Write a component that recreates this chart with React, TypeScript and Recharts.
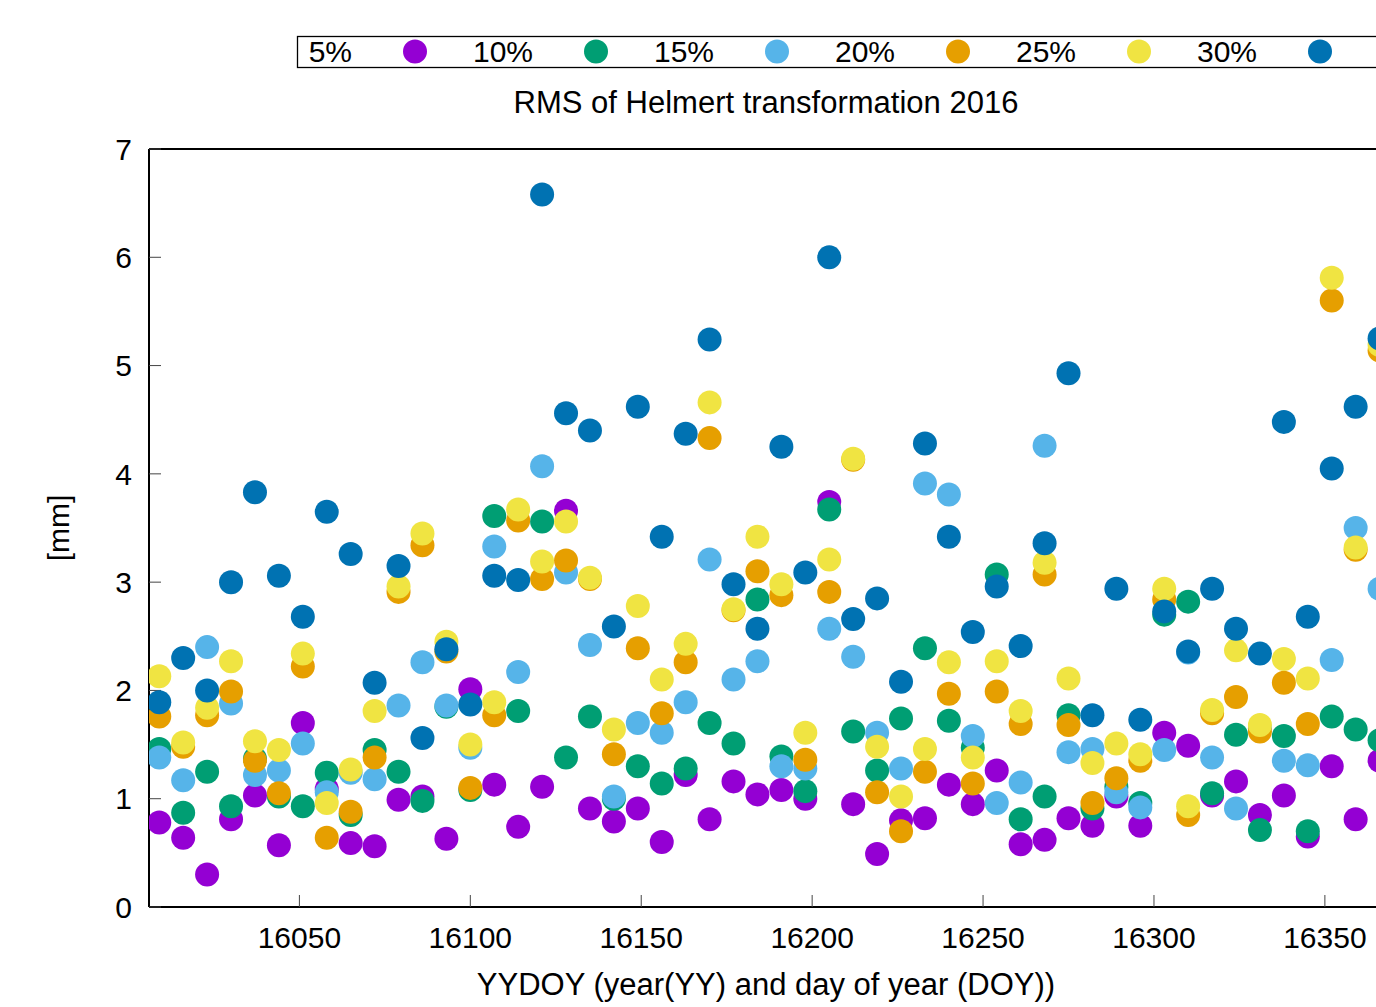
import React from 'react';
import { ScatterChart, Scatter, XAxis, YAxis, Legend, Label } from 'recharts';

const days = [
  16009, 16016, 16023, 16030, 16037, 16044, 16051, 16058, 16065, 16072, 16079, 16086, 16093,
  16100, 16107, 16114, 16121, 16128, 16135, 16142, 16149, 16156, 16163, 16170, 16177, 16184,
  16191, 16198, 16205, 16212, 16219, 16226, 16233, 16240, 16247, 16254, 16261, 16268, 16275,
  16282, 16289, 16296, 16303, 16310, 16317, 16324, 16331, 16338, 16345, 16352, 16359, 16366,
];

const p5 = [
  0.78, 0.64, 0.30, 0.81, 1.03, 0.57, 1.70, 1.09, 0.59, 0.56, 0.99, 1.02, 0.63,
  2.01, 1.13, 0.74, 1.11, 3.66, 0.91, 0.79, 0.91, 0.60, 1.22, 0.81, 1.16, 1.04,
  1.08, 1.00, 3.74, 0.95, 0.49, 0.80, 0.82, 1.13, 0.95, 1.26, 0.58, 0.62, 0.82,
  0.75, 1.02, 0.75, 1.61, 1.49, 1.03, 1.16, 0.85, 1.03, 0.65, 1.30, 0.81, 1.35,
];
const p10 = [
  1.46, 0.87, 1.25, 0.93, 1.37, 1.02, 0.93, 1.24, 0.85, 1.45, 1.25, 0.98, 1.85,
  1.08, 3.61, 1.81, 3.56, 1.38, 1.76, 1.00, 1.30, 1.14, 1.28, 1.70, 1.51, 2.84,
  1.39, 1.07, 3.67, 1.62, 1.26, 1.74, 2.39, 1.72, 1.47, 3.07, 0.81, 1.02, 1.77,
  0.91, 1.11, 0.96, 2.70, 2.82, 1.05, 1.59, 0.71, 1.58, 0.70, 1.76, 1.64, 1.54,
];
const p15 = [
  1.38, 1.17, 2.40, 1.88, 1.22, 1.26, 1.51, 1.06, 1.24, 1.18, 1.86, 2.26, 1.86,
  1.47, 3.33, 2.17, 4.07, 3.09, 2.42, 1.02, 1.70, 1.61, 1.89, 3.21, 2.10, 2.27,
  1.30, 1.28, 2.57, 2.31, 1.61, 1.28, 3.91, 3.81, 1.58, 0.96, 1.15, 4.26, 1.43,
  1.46, 1.06, 0.92, 1.45, 2.35, 1.38, 0.91, 1.65, 1.35, 1.31, 2.28, 3.50, 2.94,
];
const p20 = [
  1.76, 1.48, 1.77, 1.99, 1.35, 1.05, 2.22, 0.64, 0.88, 1.38, 2.91, 3.34, 2.36,
  1.10, 1.77, 3.57, 3.03, 3.20, 3.03, 1.41, 2.39, 1.79, 2.26, 4.33, 2.74, 3.10,
  2.88, 1.36, 2.91, 4.13, 1.06, 0.70, 1.25, 1.97, 1.14, 1.99, 1.69, 3.07, 1.68,
  0.96, 1.19, 1.35, 2.84, 0.85, 1.79, 1.94, 1.62, 2.07, 1.69, 5.60, 3.30, 5.14,
];
const p25 = [
  2.13, 1.52, 1.84, 2.27, 1.53, 1.45, 2.34, 0.96, 1.27, 1.81, 2.96, 3.45, 2.45,
  1.50, 1.89, 3.67, 3.19, 3.56, 3.04, 1.64, 2.78, 2.10, 2.43, 4.66, 2.75, 3.42,
  2.98, 1.61, 3.21, 4.14, 1.48, 1.02, 1.46, 2.26, 1.38, 2.27, 1.81, 3.18, 2.11,
  1.33, 1.51, 1.41, 2.94, 0.93, 1.82, 2.37, 1.68, 2.29, 2.11, 5.81, 3.32, 5.19,
];
const p30 = [
  1.89, 2.30, 2.00, 3.00, 3.83, 3.06, 2.68, 3.65, 3.26, 2.07, 3.15, 1.56, 2.38,
  1.87, 3.06, 3.02, 6.58, 4.56, 4.40, 2.59, 4.62, 3.42, 4.37, 5.24, 2.98, 2.57,
  4.25, 3.09, 6.00, 2.66, 2.85, 2.08, 4.28, 3.42, 2.54, 2.96, 2.41, 3.36, 4.93,
  1.77, 2.94, 1.73, 2.73, 2.36, 2.94, 2.57, 2.34, 4.48, 2.68, 4.05, 4.62, 5.25,
];

const seriesNames = ['5%', '10%', '15%', '20%', '25%', '30%'];
const seriesColors = ['#9400D3', '#009E73', '#56B4E9', '#E69F00', '#F0E442', '#0072B2'];
const seriesValues = [p5, p10, p15, p20, p25, p30];

const xTicks = [16050, 16100, 16150, 16200, 16250, 16300, 16350];
const yTicks = [0, 1, 2, 3, 4, 5, 6, 7];
const xDomain = [16006, 16367];
const yDomain = [0, 7];

const titleText = 'RMS of Helmert transformation 2016';
const xLabelText = 'YYDOY (year(YY) and day of year (DOY))';
const yLabelText = '[mm]';

const FONT = '"Liberation Sans", Arial, Helvetica, sans-serif';

const series = seriesNames.map((name, i) => ({
  name,
  color: seriesColors[i],
  data: days.map((d, j) => ({ x: d, y: seriesValues[i][j] })),
}));

const LEGEND_W = 1100;
const LEGEND_H = 32;

const renderLegend = () => (
  <svg width={LEGEND_W} height={LEGEND_H} style={{ display: 'block', overflow: 'visible' }}>
    <rect x={0.5} y={0.5} width={LEGEND_W - 1} height={LEGEND_H - 1} fill="#fff" stroke="#000" strokeWidth={1.3} />
    {series.map((s, i) => (
      <g key={s.name}>
        <text x={55 + 181 * i} y={25.5} textAnchor="end" fontSize={30} fontFamily={FONT} fill="#000">
          {s.name}
        </text>
        <circle cx={118 + 181 * i} cy={15.5} r={12} fill={s.color} />
      </g>
    ))}
  </svg>
);

const makeShape = (color: string) => (props: any) => {
  if (props.cx == null || props.cy == null) return <g />;
  return <circle cx={props.cx} cy={props.cy} r={12} fill={color} />;
};

const YLabel = (props: any) => {
  const vb = props.viewBox || { x: 0, y: 149, width: 149, height: 758 };
  const cx = vb.x + 58;
  const cy = vb.y + vb.height / 2;
  return (
    <text
      x={cx}
      y={cy}
      transform={`rotate(-90 ${cx} ${cy})`}
      textAnchor="middle"
      dy="0.35em"
      fontSize={30}
      fontFamily={FONT}
      fill="#000"
    >
      {yLabelText}
    </text>
  );
};

const TitleLabel = (props: any) => {
  const vb = props.viewBox || { x: 149, y: 907, width: 1234, height: 100 };
  const cx = vb.x + vb.width / 2;
  // title sits 794px above the bottom axis line
  const y = vb.y - 794;
  return (
    <text x={cx} y={y} textAnchor="middle" fontSize={31} fontFamily={FONT} fill="#000">
      {titleText}
    </text>
  );
};

const FrameTop = (props: any) => {
  const vb = props.viewBox || { x: 149, y: 907, width: 1234, height: 100 };
  return null;
};

export default function App() {
  const tickStyle = { fontSize: 30, fontFamily: FONT, fill: '#000' };
  const axisLineStyle = { stroke: '#000', strokeWidth: 2 };
  const tickLineStyle = { stroke: '#444', strokeWidth: 1 };
  return (
    <div
      style={{
        position: 'absolute',
        left: 0,
        top: 0,
        width: 1376,
        height: 1007,
        overflow: 'hidden',
        background: '#fff',
      }}
    >
      <ScatterChart
        width={1440}
        height={1007}
        margin={{ top: 148, right: 56, bottom: 0, left: 0 }}
        style={{ fontFamily: FONT }}
      >
        <XAxis
          xAxisId="t"
          type="number"
          dataKey="x"
          orientation="top"
          domain={xDomain}
          ticks={xTicks}
          allowDataOverflow
          interval={0}
          height={1}
          tickSize={-12}
          tick={false}
          axisLine={axisLineStyle}
          tickLine={tickLineStyle}
        />
        <XAxis
          xAxisId="b"
          type="number"
          dataKey="x"
          orientation="bottom"
          domain={xDomain}
          ticks={xTicks}
          allowDataOverflow
          interval={0}
          height={100}
          tickSize={-12}
          tickMargin={32}
          tick={tickStyle}
          axisLine={axisLineStyle}
          tickLine={tickLineStyle}
        >
          <Label
            value={xLabelText}
            position="insideBottom"
            offset={12}
            fontSize={31}
            fontFamily={FONT}
            fill="#000"
          />
          <Label content={<TitleLabel />} />
        </XAxis>
        <YAxis
          yAxisId="l"
          type="number"
          dataKey="y"
          orientation="left"
          domain={yDomain}
          ticks={yTicks}
          allowDataOverflow
          interval={0}
          width={149}
          tickSize={-12}
          tickMargin={29}
          tick={tickStyle}
          axisLine={axisLineStyle}
          tickLine={tickLineStyle}
        >
          <Label content={<YLabel />} />
        </YAxis>
        <YAxis
          yAxisId="r"
          type="number"
          dataKey="y"
          orientation="right"
          domain={yDomain}
          ticks={yTicks}
          allowDataOverflow
          interval={0}
          width={1}
          tickSize={-12}
          tick={false}
          axisLine={axisLineStyle}
          tickLine={tickLineStyle}
        />
        <Legend
          layout="horizontal"
          verticalAlign="middle"
          align="center"
          content={renderLegend}
          wrapperStyle={{ position: 'absolute', left: 297, top: 36, width: LEGEND_W, height: LEGEND_H }}
        />
        <Scatter
          name="frame"
          legendType="none"
          data={[]}
          xAxisId="t"
          yAxisId="r"
          isAnimationActive={false}
        />
        {series.map((s) => (
          <Scatter
            key={s.name}
            name={s.name}
            data={s.data}
            xAxisId="b"
            yAxisId="l"
            fill={s.color}
            shape={makeShape(s.color)}
            isAnimationActive={false}
          />
        ))}
      </ScatterChart>
    </div>
  );
}
